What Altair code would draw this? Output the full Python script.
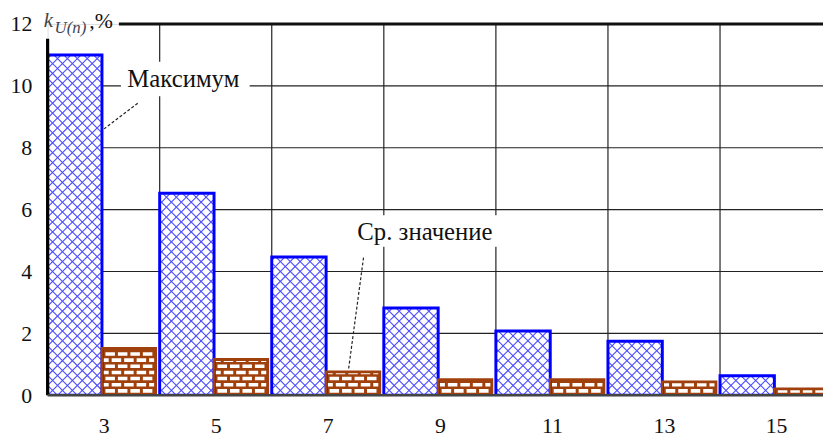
import altair as alt
import pandas as pd
import numpy as np

# ---------------- data ----------------
harmonics = [3, 5, 7, 9, 11, 13, 15]
k_max = [11.0, 6.53, 4.47, 2.82, 2.08, 1.75, 0.63]
k_avg = [1.52, 1.16, 0.76, 0.51, 0.51, 0.44, 0.21]
y_ticks = [0, 2, 4, 6, 8, 10, 12]
grid_y = [2, 4, 6, 8, 10]
grid_x = [1, 2, 3, 4, 5, 6]
label_max = "Максимум"
label_avg = "Ср. значение"

# ---------------- layout constants ----------------
W, H = 783, 375
GROUP_PX = 113.17
XMAX = W / GROUP_PX
PX_Y = H / 12.0
BLUE_W = 0.485
BROWN_END = 0.965
FONT = "Liberation Serif, Times New Roman, DejaVu Serif, serif"
BLUE = "#0000ff"
HATCH = "#4b4bff"
BROWN = "#a0400c"

xs = alt.Scale(domain=[0, XMAX], nice=False, zero=False)
ys = alt.Scale(domain=[0, 12], nice=False, zero=False)

# ---------------- tables built from the arrays ----------------
blue = pd.DataFrame({"x": [i for i in range(len(harmonics))],
                     "x2": [i + BLUE_W for i in range(len(harmonics))],
                     "y": 0.0, "y2": k_max})
brown = pd.DataFrame({"x": [i + BLUE_W for i in range(len(harmonics))],
                      "x2": [i + BROWN_END for i in range(len(harmonics))],
                      "y": 0.0, "y2": k_avg})


def hatch_segments(x0, x1, h, d=10.0, inset=1.0):
    segs = []
    x0 += inset; x1 -= inset
    y0, y1 = inset, h - inset
    if x1 <= x0 or y1 <= y0:
        return segs
    c = np.floor((x0 - y1) / d) * d
    while c <= x1 - y0:
        xa = max(x0, c + y0); xb = min(x1, c + y1)
        if xb > xa:
            segs.append((xa, xa - c, xb, xb - c))
        c += d
    c = np.floor((x0 + y0) / d) * d
    while c <= x1 + y1:
        xa = max(x0, c - y1); xb = min(x1, c - y0)
        if xb > xa:
            segs.append((xa, c - xa, xb, c - xb))
        c += d
    return segs


def brick_cells(x0, x1, h, row=6.2, bh=3.6, pitch=12.6, bw=9.6, inset=1.5):
    out = []
    ix0, ix1 = x0 + inset, x1 - inset
    iy0, iy1 = inset, h - inset
    k = 0
    yb = iy0 + 1.2
    while yb < iy1:
        yt = min(yb + bh, iy1)
        off = (k % 2) * pitch / 2
        xx = ix0 - pitch + off + 2
        while xx < ix1:
            xa = max(xx, ix0); xb = min(xx + bw, ix1)
            if xb - xa > 0.8 and yt - yb > 0.8:
                out.append((xa, yb, xb, yt))
            xx += pitch
        yb += row
        k += 1
    return out


hatch_rows = []
for _, r in blue.iterrows():
    for (a, b, c, d) in hatch_segments(r.x * GROUP_PX, r.x2 * GROUP_PX, r.y2 * PX_Y):
        hatch_rows.append({"x": a / GROUP_PX, "y": b / PX_Y, "x2": c / GROUP_PX, "y2": d / PX_Y})
hatch = pd.DataFrame(hatch_rows)

brick_rows = []
for _, r in brown.iterrows():
    for (a, b, c, d) in brick_cells(r.x * GROUP_PX, r.x2 * GROUP_PX, r.y2 * PX_Y):
        brick_rows.append({"x": a / GROUP_PX, "y": b / PX_Y, "x2": c / GROUP_PX, "y2": d / PX_Y})
bricks = pd.DataFrame(brick_rows)

label_expr = "[" + ",".join("'%d'" % h for h in harmonics) + "][floor(datum.value)]"

# ---------------- layers ----------------
gh = alt.Chart(pd.DataFrame({"y": grid_y})).mark_rule(color="#222", strokeWidth=1.2, clip=True).encode(
    x=alt.value(0), x2=alt.value(W), y=alt.Y("y:Q", scale=ys, axis=None))
gv = alt.Chart(pd.DataFrame({"x": grid_x})).mark_rule(color="#222", strokeWidth=1.2, clip=True).encode(
    x=alt.X("x:Q", scale=xs, axis=None), y=alt.value(0), y2=alt.value(H))

blue_fill = alt.Chart(blue).mark_rect(fill="white", clip=True).encode(
    x=alt.X("x:Q", scale=xs, axis=alt.Axis(
        values=[i + 0.5 for i in range(len(harmonics))], labelExpr=label_expr,
        domain=False, ticks=False, tickSize=0, grid=False, labelFlush=False, labelOverlap=False,
        labelFont=FONT, labelFontSize=22, labelColor="#111", labelPadding=38,
        labelBaseline="alphabetic", title=None)),
    x2="x2",
    y=alt.Y("y:Q", scale=ys, axis=alt.Axis(
        values=y_ticks, domain=False, ticks=False, tickSize=0, grid=False, labelFlush=False,
        labelOverlap=False, labelFont=FONT, labelFontSize=22, labelColor="#111",
        labelPadding=16, title=None)),
    y2="y2")
brown_fill = alt.Chart(brown).mark_rect(fill=BROWN, clip=True).encode(
    x=alt.X("x:Q", scale=xs, axis=None), x2="x2", y=alt.Y("y:Q", scale=ys, axis=None), y2="y2")

hatch_l = alt.Chart(hatch).mark_rule(color=HATCH, strokeWidth=1.1, clip=True).encode(
    x=alt.X("x:Q", scale=xs, axis=None), x2="x2", y=alt.Y("y:Q", scale=ys, axis=None), y2="y2")
brick_l = alt.Chart(bricks).mark_rect(fill="white", clip=True).encode(
    x=alt.X("x:Q", scale=xs, axis=None), x2="x2", y=alt.Y("y:Q", scale=ys, axis=None), y2="y2")

blue_edge = alt.Chart(blue).mark_rect(fillOpacity=0, stroke=BLUE, strokeWidth=3, clip=True).encode(
    x=alt.X("x:Q", scale=xs, axis=None), x2="x2", y=alt.Y("y:Q", scale=ys, axis=None), y2="y2")
brown_edge = alt.Chart(brown).mark_rect(fillOpacity=0, stroke=BROWN, strokeWidth=2.6, clip=True).encode(
    x=alt.X("x:Q", scale=xs, axis=None), x2="x2", y=alt.Y("y:Q", scale=ys, axis=None), y2="y2")

# frame lines (left axis, bottom, top border)
frame = pd.DataFrame({
    "x": [0.0, 0.0, 0.636], "x2": [0.0, XMAX, XMAX],
    "y": [0.0, 0.0, 12.0], "y2": [11.52, 0.0, 12.0],
    "c": ["#000", "#444", "#111"], "w": [3.2, 2.4, 3.0]})
frame_l = alt.Chart(frame).mark_rule(clip=False).encode(
    x=alt.X("x:Q", scale=xs, axis=None), x2="x2", y=alt.Y("y:Q", scale=ys, axis=None), y2="y2",
    color=alt.Color("c:N", scale=None), strokeWidth=alt.StrokeWidth("w:Q", scale=None))

# annotation boxes, leaders, texts
boxes = pd.DataFrame({"x": [0.654, 2.686], "x2": [1.803, 4.038], "y": [10.78, 5.82], "y2": [9.66, 4.80]})
box_l = alt.Chart(boxes).mark_rect(fill="white").encode(
    x=alt.X("x:Q", scale=xs, axis=None), x2="x2", y=alt.Y("y:Q", scale=ys, axis=None), y2="y2")
leaders = pd.DataFrame({"x": [0.804, 2.819], "y": [9.44, 4.45], "x2": [0.504, 2.686], "y2": [8.61, 0.86]})
lead_l = alt.Chart(leaders).mark_rule(color="#222", strokeWidth=1.2, strokeDash=[3, 2]).encode(
    x=alt.X("x:Q", scale=xs, axis=None), x2="x2", y=alt.Y("y:Q", scale=ys, axis=None), y2="y2")
notes = pd.DataFrame({"x": [1.211, 3.367], "y": [10.21, 5.28], "t": [label_max, label_avg]})
note_l = alt.Chart(notes).mark_text(font=FONT, fontSize=25, color="#111", baseline="middle", align="center").encode(
    x=alt.X("x:Q", scale=xs, axis=None), y=alt.Y("y:Q", scale=ys, axis=None), text="t:N")

# y-axis title k_U(n),%
one = pd.DataFrame({"a": [0]})
t_k = alt.Chart(one).mark_text(text="k", font=FONT, fontSize=21, fontStyle="italic", color="#444",
                               align="left", baseline="alphabetic").encode(x=alt.value(-4), y=alt.value(3))
t_sub = alt.Chart(one).mark_text(text="U(n)", font=FONT, fontSize=17, fontStyle="italic", color="#445",
                                 align="left", baseline="alphabetic").encode(x=alt.value(7), y=alt.value(9))
t_pct = alt.Chart(one).mark_text(text=",%", font=FONT, fontSize=22, color="#111",
                                 align="left", baseline="alphabetic").encode(x=alt.value(42), y=alt.value(4))

chart = alt.layer(
    gh, gv, blue_fill, brown_fill, hatch_l, brick_l, blue_edge, brown_edge,
    frame_l, box_l, lead_l, note_l, t_k, t_sub, t_pct
).resolve_axis(x="independent", y="independent").properties(
    width=W, height=H,
    padding={"left": 40, "top": 14, "right": 0, "bottom": 40},
    autosize=alt.AutoSizeParams(type="none"),
).configure_view(strokeWidth=0).configure(background="white")

chart.save("out.html", embed_options={"renderer": "svg", "actions": False})
